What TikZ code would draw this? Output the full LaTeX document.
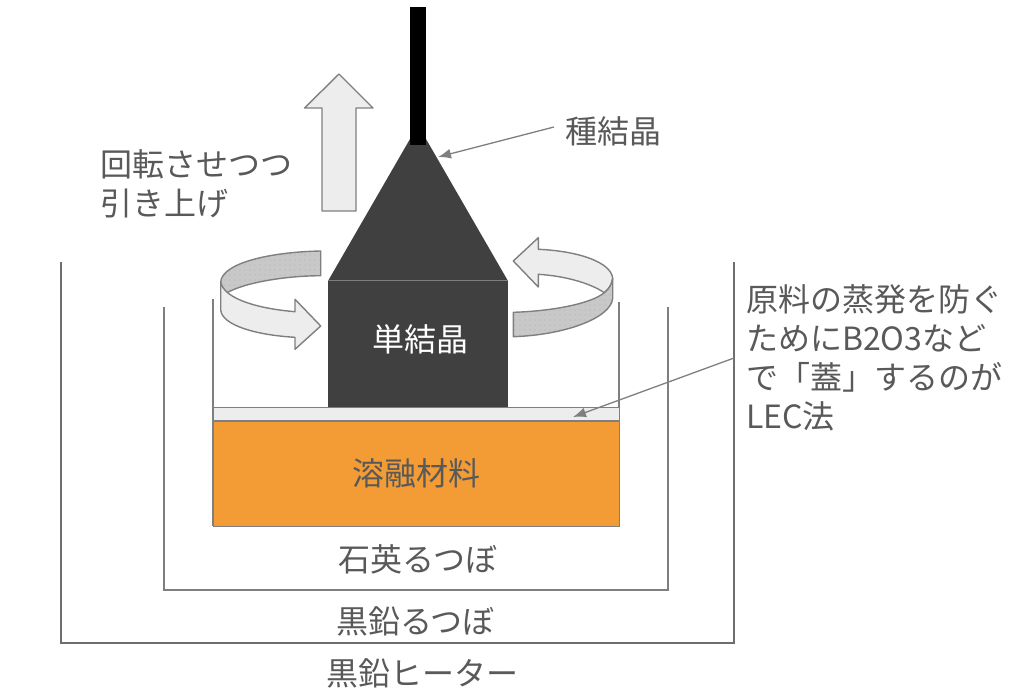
\documentclass[tikz,border=0pt]{standalone}
\usepackage{fontspec}
\setmainfont{Noto Sans CJK JP}
\usetikzlibrary{arrows.meta,patterns.meta}
\definecolor{txtgray}{HTML}{595959}
\definecolor{linegray}{HTML}{7F7F7F}
\definecolor{heatgray}{HTML}{6E6E6E}
\definecolor{crystal}{HTML}{404040}
\definecolor{meltorange}{HTML}{F39C35}
\definecolor{paleface}{HTML}{EDEDED}
\definecolor{shadeface}{HTML}{C8C8C8}
\tikzset{
  lbl/.style={text=txtgray,font=\fontsize{32}{39}\selectfont,inner sep=0pt},
  wall/.style={draw=linegray,line width=1.6pt},
  heaterwall/.style={draw=heatgray,line width=2.2pt},
  solidblock/.style={fill=crystal,draw=none},
  pale/.style={fill=paleface,draw=linegray,line width=1.4pt,line join=round},
  shadeband/.style={fill=shadeface,draw=linegray,line width=1.4pt,line join=round},
  speckle/.style={pattern={Dots[distance=5pt,radius=0.35pt]},pattern color=gray},
  leader/.style={draw=linegray,line width=1.3pt,-{Latex[length=13pt,width=10pt]}},
}
\newcommand{\leftband}{(320.7,251) .. controls (270,252) and (222,263) .. (220.7,282)
     .. controls (221,287) and (222,291) .. (225,294)
     .. controls (240,284) and (280,276) .. (320.7,275.7) -- cycle}
\newcommand{\rightband}{(513.3,312.3) .. controls (555,311) and (592,303) .. (604.3,292.7)
     .. controls (609,289) and (612,284) .. (612.7,278.3)
     -- (612.7,298.3) .. controls (611,318) and (565,335) .. (513.3,336.7) -- cycle}
\begin{document}
\begin{tikzpicture}[x=1pt,y=-1pt]
\useasboundingbox (0,0) rectangle (1024,695);
% heater and crucibles
\draw[heaterwall] (61,262) -- (61,643) -- (734,643) -- (734,262);
\draw[wall] (164,307) -- (164,590) -- (668,590) -- (668,307);
\draw[wall] (213,299) -- (213,526);
\draw[wall] (619,302) -- (619,526);
% lid and melt
\node[draw=linegray,fill=paleface,line width=1.2pt,minimum width=406pt,minimum height=13pt,inner sep=0pt,anchor=north west] (lid) at (213,407) {};
\node[draw=linegray,fill=meltorange,line width=1.2pt,minimum width=406pt,minimum height=105pt,inner sep=0pt,anchor=north west] (melt) at (213,421) {};
\node[lbl] (meltlabel) at (416,473) {溶融材料};
% pull arrow
\path[pale] (339,74) -- (373,108) -- (356,108) -- (356,211) -- (322,211) -- (322,108) -- (304.5,108) -- cycle;
% crystal
\path[solidblock] (410,139) -- (426,139) -- (508,281) -- (328,281) -- cycle;
\node[solidblock,minimum width=180pt,minimum height=126pt,inner sep=0pt,anchor=north west] (body) at (328,281) {};
\draw[linegray,line width=0.5pt] (328,280.5) -- (508,280.5);
\node[lbl,text=white] (bodylabel) at (420,339) {単結晶};
\node[fill=black,minimum width=16pt,minimum height=138pt,inner sep=0pt,anchor=north west] (seed) at (410,7) {};
% left rotation arrow
\path[shadeband] \leftband;
\path[speckle] \leftband;
\path[pale] (220.7,282) .. controls (224,300) and (262,309) .. (295,311.7)
   -- (295,299.3) -- (320.7,326) -- (295,349.3) -- (295,337.3)
   .. controls (255,335) and (222,325) .. (220.7,310) -- cycle;
% right rotation arrow
\path[pale] (513.3,261) -- (538.3,237.7) -- (538.3,249.3)
   .. controls (578,251) and (611,262) .. (612.7,278.3)
   .. controls (612,284) and (609,289) .. (604.3,292.7)
   .. controls (590,283) and (565,276) .. (538.3,274.3)
   -- (538.3,287) -- cycle;
\path[shadeband] \rightband;
\path[speckle] \rightband;
% labels
\node[lbl] (seedlabel) at (613.5,131) {種結晶};
\node[lbl,anchor=west,align=left] (pulllabel) at (100,184) {回転させつつ\\引き上げ};
\node[lbl,anchor=north west,align=left] (leclabel) at (746,284) {原料の蒸発を防ぐ\\ためにB2O3など\\で「蓋」するのが\\LEC法};
\node[lbl] (quartz) at (418,559) {石英るつぼ};
\node[lbl] (graphite) at (415.5,621) {黒鉛るつぼ};
\node[lbl] (heater) at (422,673) {黒鉛ヒーター};
% leaders
\coordinate (seedtip) at (438,157);
\coordinate (seedstart) at (554,127);
\coordinate (lidtip) at (573,417);
\coordinate (lidstart) at (734,358);
\draw[leader] (seedstart) -- (seedtip);
\draw[leader] (lidstart) -- (lidtip);
\end{tikzpicture}
\end{document}
